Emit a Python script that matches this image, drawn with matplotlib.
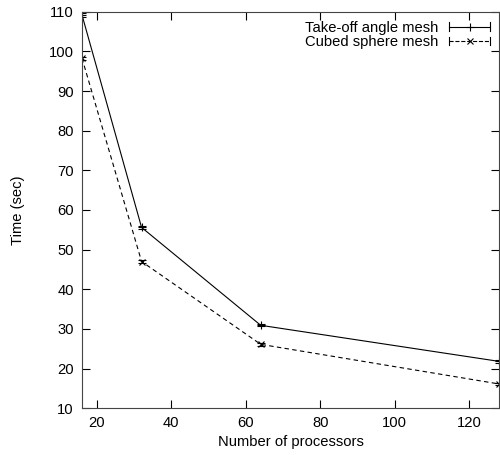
import matplotlib
matplotlib.use("Agg")
import matplotlib.pyplot as plt
from matplotlib.legend_handler import HandlerBase
from matplotlib.lines import Line2D

plt.rcParams['font.family'] = ['Liberation Sans', 'DejaVu Sans']

processors = [16, 32, 64, 128]
takeoff_time = [109.2, 55.6, 30.9, 21.8]
takeoff_err = [0.4, 0.4, 0.3, 0.3]
cubed_time = [98.3, 47.0, 26.1, 16.1]
cubed_err = [0.4, 0.4, 0.3, 0.3]

series_labels = ["Take-off angle mesh", "Cubed sphere mesh"]
x_ticks = [20, 40, 60, 80, 100, 120]
y_ticks = [10, 20, 30, 40, 50, 60, 70, 80, 90, 100, 110]

FS = 10.6


class ErrorBarKey(HandlerBase):
    """Horizontal key line with end caps and the point marker in the middle."""
    def create_artists(self, legend, orig, xd, yd, width, height, fontsize, trans):
        y = yd + height / 2
        ls = orig.get_linestyle()
        line = Line2D([xd, xd + width], [y, y], color=orig.get_color(),
                      linestyle=ls, lw=orig.get_linewidth(), transform=trans)
        caps = [Line2D([x, x], [y - 3, y + 3], color=orig.get_color(), lw=0.8,
                       transform=trans) for x in (xd, xd + width)]
        mk = Line2D([xd + width / 2], [y], marker=orig.get_marker(),
                    markersize=orig.get_markersize(), color=orig.get_color(),
                    markeredgewidth=0.8, linestyle='none', transform=trans)
        return [line, mk] + caps


fig = plt.figure(figsize=(5.0, 4.55), dpi=100)
ax = fig.add_axes([0.164, 0.103, 0.834, 0.871])

l1, = ax.plot(processors, takeoff_time, color='black', lw=0.8, marker='+',
              markersize=6, markeredgewidth=0.8, label=series_labels[0])
ax.errorbar(processors, takeoff_time, yerr=takeoff_err, fmt='none',
            ecolor='black', elinewidth=0.8, capsize=3, capthick=0.8)
l2, = ax.plot(processors, cubed_time, color='black', lw=0.8, marker='x',
              markersize=5, markeredgewidth=0.8, linestyle=(0, (4, 3)),
              label=series_labels[1])
ax.errorbar(processors, cubed_time, yerr=cubed_err, fmt='none',
            ecolor='black', elinewidth=0.8, capsize=3, capthick=0.8)

ax.set_xlim(16, 128)
ax.set_ylim(10, 110)
ax.set_xticks(x_ticks)
ax.set_yticks(y_ticks)
ax.tick_params(direction='in', length=6, width=0.8, top=True, right=True,
               labelsize=FS, colors='black', pad=6)
for s in ax.spines.values():
    s.set_linewidth(0.8)
    s.set_color('#444444')

ax.set_xlabel("Number of processors", fontsize=FS, labelpad=3)
ax.set_ylabel("Time (sec)", fontsize=FS, labelpad=17)

ax.legend(handles=[l1, l2], loc='upper right', frameon=False, fontsize=FS,
          markerfirst=False, handlelength=2.8, handletextpad=0.7,
          labelspacing=0.05, borderaxespad=0.2,
          handler_map={Line2D: ErrorBarKey()})

fig.savefig("out.png", dpi=100)
